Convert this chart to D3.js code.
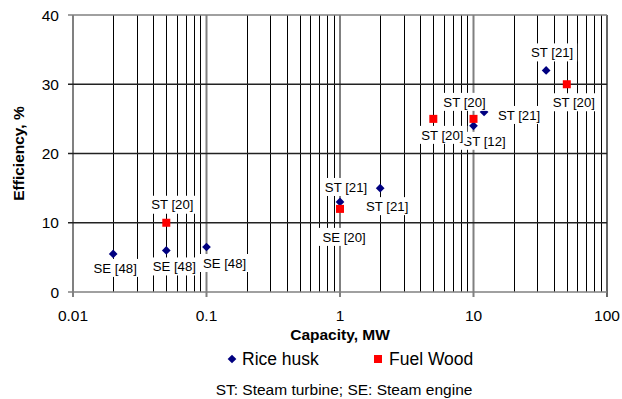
<!DOCTYPE html>
<html>
<head>
<meta charset="utf-8">
<script src="https://cdn.jsdelivr.net/npm/d3@7"></script>
<style>
    body { margin: 0; background: #fff; }
    text { font-family: Arial, "Liberation Sans", sans-serif; fill: #000; }
</style>
</head>
<body>
<div id="chart"></div>
<script>
// capacity (MW), efficiency (%), reference label
var riceCapacity = [0.02, 0.05, 0.1, 1, 2, 10, 12, 35];
var riceEfficiency = [5.5, 6, 6.5, 13, 15, 24, 26, 32];
var riceLabels = ["SE [48]", "SE [48]", "SE [48]", "ST [21]", "ST [21]", "ST [12]", "ST [21]", "ST [21]"];

var woodCapacity = [0.05, 1, 5, 10, 50];
var woodEfficiency = [10, 12, 25, 25, 30];
var woodLabels = ["ST [20]", "SE [20]", "ST [20]", "ST [20]", "ST [20]"];

var xTicks = [0.01, 0.1, 1, 10, 100];
var xTickLabels = ["0.01", "0.1", "1", "10", "100"];
var yTicks = [0, 10, 20, 30, 40];

var seriesNames = ["Rice husk", "Fuel Wood"];

// where each data label sits relative to its point (px)
var riceLabelOffsets = [[2, 14], [8, 16], [18, 16], [6, -15], [7, 18], [11, 15], [35, 3], [6, -18]];
var woodLabelOffsets = [[6, -18], [4, 28], [9, 16], [-9, -17], [7, 18]];

var width = 622, height = 399;
var margin = {top: 15, right: 15, bottom: 107, left: 73};

var svg = d3.select("#chart")
        .append("svg")
        .attr("width", width)
        .attr("height", height);

var x = d3.scaleLog()
        .domain([0.01, 100])
        .range([margin.left, width - margin.right]);

var y = d3.scaleLinear()
        .domain([0, 40])
        .range([height - margin.bottom, margin.top]);

// minor vertical grid lines (2..9 in each decade)
var minor = [];
xTicks.slice(0, -1).forEach(function (d) {
    for (var k = 2; k <= 9; k++) minor.push(d * k);
});

svg.selectAll(".minor")
        .data(minor)
        .enter()
        .append("line")
        .attr("x1", function (d) { return Math.round(x(d)) + 0.5; })
        .attr("x2", function (d) { return Math.round(x(d)) + 0.5; })
        .attr("y1", y(40))
        .attr("y2", y(0))
        .attr("stroke", "#000")
        .attr("stroke-width", 1);

// major vertical grid lines
svg.selectAll(".major")
        .data(xTicks)
        .enter()
        .append("line")
        .attr("x1", function (d) { return x(d); })
        .attr("x2", function (d) { return x(d); })
        .attr("y1", y(40))
        .attr("y2", y(0) + 5)
        .attr("stroke", function (d) { return d === 100 ? "#000" : "#808080"; })
        .attr("stroke-width", function (d) { return d === 100 ? 1.2 : 2; });

// horizontal grid lines
svg.selectAll(".hgrid")
        .data(yTicks)
        .enter()
        .append("line")
        .attr("x1", x(0.01) - 5)
        .attr("x2", x(100))
        .attr("y1", function (d) { return y(d); })
        .attr("y2", function (d) { return y(d); })
        .attr("stroke", function (d) { return d === 0 || d === 40 ? "#808080" : "#222"; })
        .attr("stroke-width", 1.6);

// axis tick labels
svg.selectAll(".ylab")
        .data(yTicks)
        .enter()
        .append("text")
        .attr("x", x(0.01) - 14)
        .attr("y", function (d) { return y(d) + 5.5; })
        .attr("text-anchor", "end")
        .style("font-size", "15.5px")
        .text(function (d) { return d; });

svg.selectAll(".xlab")
        .data(xTicks)
        .enter()
        .append("text")
        .attr("x", function (d) { return x(d); })
        .attr("y", 321)
        .attr("text-anchor", "middle")
        .style("font-size", "15.5px")
        .text(function (d, i) { return xTickLabels[i]; });

// axis titles
svg.append("text")
        .attr("x", (x(0.01) + x(100)) / 2)
        .attr("y", 340)
        .attr("text-anchor", "middle")
        .style("font-size", "15.5px")
        .style("font-weight", "bold")
        .text("Capacity, MW");

svg.append("text")
        .attr("transform", "translate(24," + (y(0) + y(40)) / 2 + ") rotate(-90)")
        .attr("text-anchor", "middle")
        .style("font-size", "15.5px")
        .style("font-weight", "bold")
        .text("Efficiency, %");

var diamond = d3.symbol().type(d3.symbolSquare).size(38);

// markers
var rice = riceCapacity.map(function (d, i) {
    return {x: d, y: riceEfficiency[i], label: riceLabels[i], off: riceLabelOffsets[i]};
});
var wood = woodCapacity.map(function (d, i) {
    return {x: d, y: woodEfficiency[i], label: woodLabels[i], off: woodLabelOffsets[i]};
});

svg.selectAll(".rice")
        .data(rice)
        .enter()
        .append("path")
        .attr("d", diamond)
        .attr("transform", function (d) {
            return "translate(" + x(d.x) + "," + y(d.y) + ") rotate(45)";
        })
        .attr("fill", "#000080");

svg.selectAll(".wood")
        .data(wood)
        .enter()
        .append("rect")
        .attr("x", function (d) { return x(d.x) - 4; })
        .attr("y", function (d) { return y(d.y) - 4; })
        .attr("width", 8)
        .attr("height", 8)
        .attr("fill", "#ff0000");

// data labels with white boxes
var labels = svg.selectAll(".dlab")
        .data(rice.concat(wood))
        .enter()
        .append("g")
        .attr("transform", function (d) {
            return "translate(" + (x(d.x) + d.off[0]) + "," + (y(d.y) + d.off[1]) + ")";
        });

labels.append("rect")
        .attr("x", -25)
        .attr("y", -9)
        .attr("width", 50)
        .attr("height", 18)
        .attr("fill", "#fff");

labels.append("text")
        .attr("y", 4.7)
        .attr("text-anchor", "middle")
        .style("font-size", "13.2px")
        .text(function (d) { return d.label; });

// legend
var legend = svg.append("g");
legend.append("path")
        .attr("d", diamond)
        .attr("transform", "translate(232,359) rotate(45)")
        .attr("fill", "#000080");
legend.append("text")
        .attr("x", 242)
        .attr("y", 365)
        .style("font-size", "17.5px")
        .text(seriesNames[0]);
legend.append("rect")
        .attr("x", 374)
        .attr("y", 355)
        .attr("width", 8)
        .attr("height", 8)
        .attr("fill", "#ff0000");
legend.append("text")
        .attr("x", 389)
        .attr("y", 365)
        .style("font-size", "17.5px")
        .text(seriesNames[1]);

svg.append("text")
        .attr("x", 344)
        .attr("y", 395)
        .attr("text-anchor", "middle")
        .style("font-size", "15.5px")
        .text("ST: Steam turbine; SE: Steam engine");
</script>
</body>
</html>
